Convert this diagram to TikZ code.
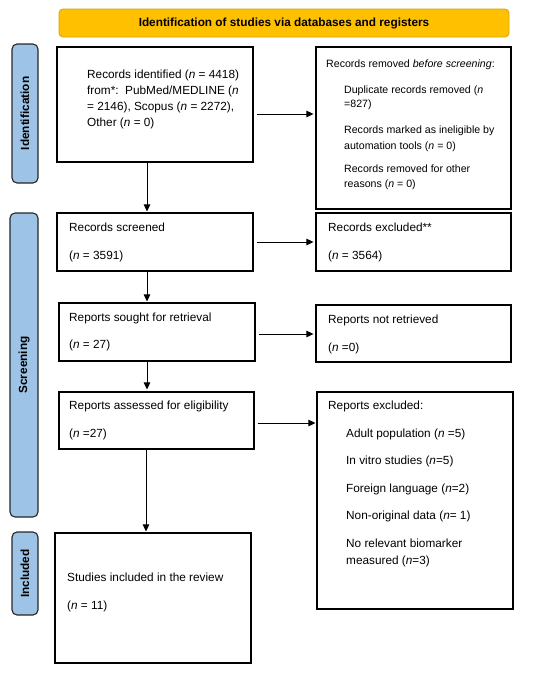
\documentclass[tikz,border=0pt]{standalone}
\usepackage{fontspec}
\setmainfont{Liberation Sans}
\usetikzlibrary{arrows.meta}
\definecolor{hdr}{HTML}{FFC000}
\definecolor{hdrb}{HTML}{D9A300}
\definecolor{bar}{HTML}{9DC3E6}
\begin{document}
\begin{tikzpicture}[x=1pt,y=-1pt,
  box/.style={draw=black,line width=1.1pt,inner sep=0pt},
  sidebar/.style={draw=black!85,line width=1.1pt,fill=bar,rounded corners=5pt,inner sep=0pt},
  txt/.style={anchor=base west,inner sep=0pt,font=\fontsize{11.8}{16}\selectfont},
  stxt/.style={anchor=base west,inner sep=0pt,font=\fontsize{10.6}{14}\selectfont},
  lbl/.style={rotate=90,inner sep=0pt,font=\fontsize{11.8}{13}\selectfont\bfseries},
  arr/.style={line width=0.8pt,-{Triangle[length=7pt,width=6.5pt]}}]
\useasboundingbox (0,0) rectangle (550,675);
% header
\node[draw=hdrb,line width=0.8pt,fill=hdr,rounded corners=4pt,minimum width=450pt,minimum height=28pt,
  font=\fontsize{11.8}{13}\selectfont\bfseries] (hdr) at (284,23) {Identification of studies via databases and registers};
% side bars
\node[sidebar,minimum width=26pt,minimum height=139pt] (sb1) at (25,113.5) {};
\node[lbl] (sl1) at (sb1.center) {Identification};
\node[sidebar,minimum width=28pt,minimum height=304pt] (sb2) at (24,365) {};
\node[lbl] (sl2) at (sb2.center) {Screening};
\node[sidebar,minimum width=26pt,minimum height=83pt] (sb3) at (25,573.5) {};
\node[lbl] (sl3) at (sb3.center) {Included};
% boxes
\node[box,minimum width=196pt,minimum height=115pt] (b1) at (155,104.5) {};
\node[box,minimum width=195pt,minimum height=162pt] (rem) at (413.5,128) {};
\node[box,minimum width=196pt,minimum height=58pt] (scr) at (155,242) {};
\node[box,minimum width=195pt,minimum height=58pt] (exc) at (413.5,242) {};
\node[box,minimum width=196pt,minimum height=58pt] (sou) at (157,332) {};
\node[box,minimum width=195pt,minimum height=57pt] (nr) at (413.5,333.5) {};
\node[box,minimum width=195pt,minimum height=57pt] (ass) at (156.5,420.5) {};
\node[box,minimum width=196pt,minimum height=217pt] (rex) at (415,500.5) {};
\node[box,minimum width=196pt,minimum height=130pt] (inc) at (153,598) {};
% texts: records identified
\node[txt] (t1a) at (87,78) {Records identified (\textit{n} = 4418)};
\node[txt] (t1b) at (87,94) {from*:\ \ PubMed/MEDLINE (\textit{n}};
\node[txt] (t1c) at (87,110) {= 2146), Scopus (\textit{n} = 2272),};
\node[txt] (t1d) at (87,126) {Other (\textit{n} = 0)};
% removed before screening
\node[stxt] (t2) at (326,67) {Records removed \textit{before screening}:};
\node[stxt] (t3a) at (344,93) {Duplicate records removed (\textit{n}};
\node[stxt] (t3b) at (344,107) {=827)};
\node[stxt] (t4a) at (344,133) {Records marked as ineligible by};
\node[stxt] (t4b) at (344,149) {automation tools (\textit{n} = 0)};
\node[stxt] (t5a) at (344,172) {Records removed for other};
\node[stxt] (t5b) at (344,187) {reasons (\textit{n} = 0)};
% screened / excluded
\node[txt] (t6) at (69,231) {Records screened};
\node[txt] (t7) at (69,259) {(\textit{n} = 3591)};
\node[txt] (t8) at (328,231) {Records excluded**};
\node[txt] (t9) at (328,259) {(\textit{n} = 3564)};
% sought / not retrieved
\node[txt] (t10) at (69,321) {Reports sought for retrieval};
\node[txt] (t11) at (69,348) {(\textit{n} = 27)};
\node[txt] (t12) at (328,323) {Reports not retrieved};
\node[txt] (t13) at (328,351) {(\textit{n} =0)};
% assessed / excluded
\node[txt] (t14) at (69,409) {Reports assessed for eligibility};
\node[txt] (t15) at (69,437) {(\textit{n} =27)};
\node[txt] (t16) at (328,409) {Reports excluded:};
\node[txt] (t17) at (346,437) {Adult population (\textit{n} =5)};
\node[txt] (t18) at (346,464) {In vitro studies (\textit{n}=5)};
\node[txt] (t19) at (346,492) {Foreign language (\textit{n}=2)};
\node[txt] (t20) at (346,519) {Non-original data (\textit{n}= 1)};
\node[txt] (t21a) at (346,547) {No relevant biomarker};
\node[txt] (t21b) at (346,564) {measured (\textit{n}=3)};
% included
\node[txt] (t22) at (67,581) {Studies included in the review};
\node[txt] (t23) at (67,609) {(\textit{n} = 11)};
% connector helpers
\coordinate (h1) at (0,114);
\coordinate (h2) at (0,242);
\coordinate (h3) at (0,334);
\coordinate (h4) at (0,423);
\coordinate (v1) at (147,0);
\coordinate (v2) at (146,0);
% connectors
\draw[arr,shorten <=3pt,shorten >=2pt] (b1.east |- h1) -- (rem.west |- h1);
\draw[arr,shorten <=3pt,shorten >=2pt] (scr.east |- h2) -- (exc.west |- h2);
\draw[arr,shorten <=3pt,shorten >=2pt] (sou.east |- h3) -- (nr.west |- h3);
\draw[arr,shorten <=3pt,shorten >=1pt] (ass.east |- h4) -- (rex.west |- h4);
\draw[arr,shorten >=1pt] (b1.south -| v1) -- (scr.north -| v1);
\draw[arr,shorten >=1pt] (scr.south -| v1) -- (sou.north -| v1);
\draw[arr,shorten >=2pt] (sou.south -| v1) -- (ass.north -| v1);
\draw[arr,shorten >=1pt] (ass.south -| v2) -- (inc.north -| v2);
\end{tikzpicture}
\end{document}
